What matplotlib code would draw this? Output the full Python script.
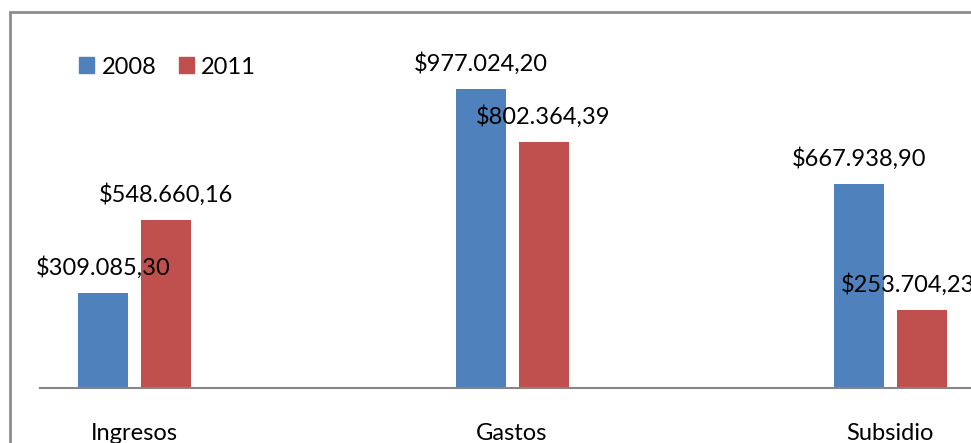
import matplotlib.pyplot as plt
from matplotlib.patches import Rectangle, Patch

categorias = ["Ingresos", "Gastos", "Subsidio"]
valores_2008 = [309085.30, 977024.20, 667938.90]
valores_2011 = [548660.16, 802364.39, 253704.23]
series = ["2008", "2011"]

azul = "#4F81BD"
rojo = "#C0504D"
gris = "#8C8C8C"

plt.rcParams['font.family'] = ['Lato', 'DejaVu Sans']
fs = 17

W, H = 971, 443
fig = plt.figure(figsize=(W / 100, H / 100), dpi=100)
# axes placed in pixel units: baseline at y=388, left edge x=40
ax = fig.add_axes([40 / W, 55 / H, (W - 40) / W, 375 / H])

x = list(range(len(categorias)))
ancho = 50 / 378
desp = 31 / 378

b1 = ax.bar([i - desp for i in x], valores_2008, ancho, color=azul)
b2 = ax.bar([i + desp + 0.0015 for i in x], valores_2011, ancho, color=rojo)

def fmt(v):
    s = f"{v:,.2f}"
    s = s.replace(",", "X").replace(".", ",").replace("X", ".")
    return "$" + s

etiquetas = []
for barras, vals in ((b1, valores_2008), (b2, valores_2011)):
    for r, v in zip(barras, vals):
        t = ax.annotate(fmt(v), (r.get_x() + r.get_width() / 2, v),
                        xytext=(0, 13), textcoords="offset points",
                        ha="center", va="baseline", fontsize=fs,
                        annotation_clip=False)
        etiquetas.append(t)

ax.set_xlim(-94 / 378, 837 / 378)
ax.set_ylim(0, 1225000)
ax.set_yticks([])
ax.set_xticks(x)
ax.set_xticklabels(categorias, fontsize=fs)
ax.tick_params(axis="x", length=0, pad=25)
for lado in ("top", "right", "left"):
    ax.spines[lado].set_visible(False)
ax.spines["bottom"].set_color("#868686")
ax.spines["bottom"].set_linewidth(1.5)

handles = [Patch(color=azul), Patch(color=rojo)]
ax.legend(handles, series, loc="center left", ncol=2, frameon=False,
          fontsize=fs, handlelength=0.65, handleheight=0.65,
          handletextpad=0.3, columnspacing=0.95, borderpad=0, borderaxespad=0,
          bbox_to_anchor=(79 / W, 1 - 67 / H), bbox_transform=fig.transFigure)

# chart frame
fig.patches.append(Rectangle((9.5 / W, -0.2), 1.2, (H - 11.5) / H + 0.2,
                             transform=fig.transFigure, fill=False,
                             edgecolor=gris, linewidth=2))

# keep data labels inside the chart area (right edge at about x=975 px)
fig.canvas.draw()
r = fig.canvas.get_renderer()
for t in etiquetas:
    bb = t.get_window_extent(r)
    if bb.x1 > W + 4:
        dx = (bb.x1 - (W + 4)) * 72 / fig.dpi
        t.set_position((t.xyann[0] - dx, t.xyann[1]))

fig.savefig("out.png", dpi=100)
